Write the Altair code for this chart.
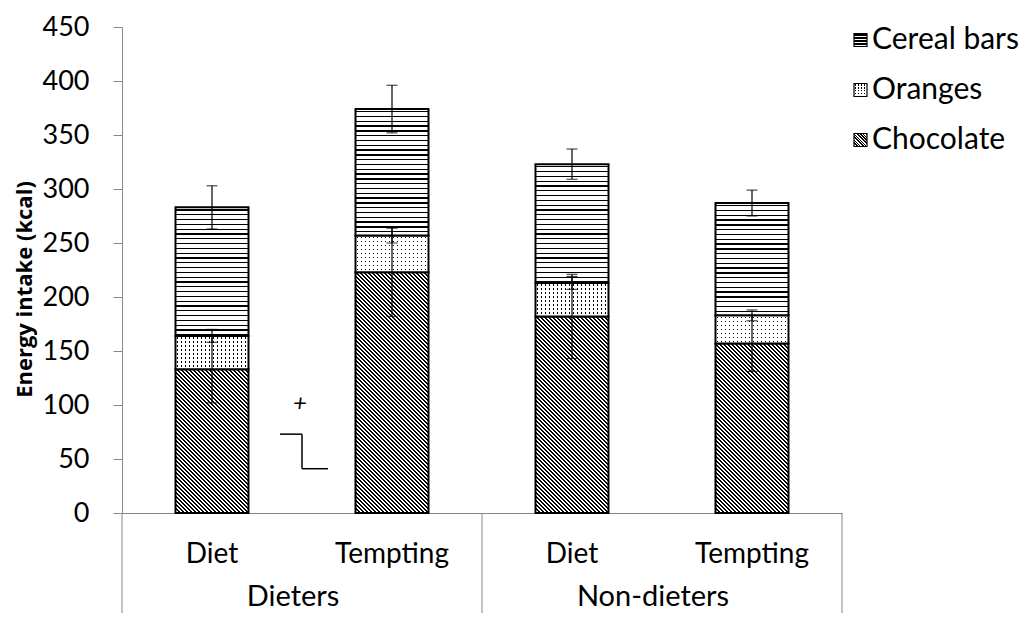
import math
import altair as alt
import pandas as pd

# ---------------- data ----------------
groups = ["Dieters", "Dieters", "Non-dieters", "Non-dieters"]
conditions = ["Diet", "Tempting", "Diet", "Tempting"]
series_order = ["Chocolate", "Oranges", "Cereal bars"]
legend_order = ["Cereal bars", "Oranges", "Chocolate"]
chocolate = [133, 223, 182, 157]
oranges = [31, 34, 31, 26]
cereal = [119, 117, 110, 104]
chocolate_err = [31, 41, 39, 26]
oranges_err = [6, 7, 6, 5]
cereal_err = [20, 22, 14, 12]
y_ticks = [0, 50, 100, 150, 200, 250, 300, 350, 400, 450]
y_title = "Energy intake (kcal)"
# marginal-significance bracket between Dieters/Diet and Dieters/Tempting
bracket_high = [73]
bracket_low = [41]
bracket_mark = ["+"]
bracket_label_y = [101]

# ---------------- layout / style ----------------
W, H = 720, 486
YMAX = 450
PX = H / YMAX
STEP = W / len(groups)
BAR_PX = 73
FONT = "Lato"
AXIS_GRAY = "#868686"

keys = [f"{g}|{c}" for g, c in zip(groups, conditions)]
vals = {"Chocolate": chocolate, "Oranges": oranges, "Cereal bars": cereal}
errs = {"Chocolate": chocolate_err, "Oranges": oranges_err, "Cereal bars": cereal_err}

rows = []
for i, k in enumerate(keys):
    base = 0
    for s in series_order:
        v = vals[s][i]
        e = errs[s][i]
        rows.append(dict(key=k, group=groups[i], condition=conditions[i], series=s,
                         y0=base, y1=base + v, lo=base + v - e, hi=base + v + e, hpx=v * PX))
        base += v
seg = pd.DataFrame(rows)

cond_df = pd.DataFrame({"key": keys, "condition": conditions})
group_names = list(dict.fromkeys(groups))
first_keys = [keys[groups.index(g)] for g in group_names]
group_df = pd.DataFrame({"key": first_keys, "group": group_names})
last_df = pd.DataFrame({"key": [keys[-1]]})
legend_df = pd.DataFrame({"series": legend_order})
ann_df = pd.DataFrame({"hi": bracket_high, "lo": bracket_low, "mark": bracket_mark, "ly": bracket_label_y})

XSCALE = alt.Scale(domain=keys, paddingInner=0, paddingOuter=0)
XAXIS = alt.Axis(labels=False, ticks=False, title=None, grid=False,
                 domainColor=AXIS_GRAY, domainWidth=1)
YSCALE = alt.Scale(domain=[0, YMAX], nice=False, zero=True)
YAXIS = alt.Axis(values=y_ticks, title=y_title, grid=False, domainColor=AXIS_GRAY,
                 tickColor=AXIS_GRAY, tickSize=9, labelFont=FONT, labelFontSize=27,
                 labelColor="black", labelPadding=24, titleFont="Open Sans", titleFontSize=22,
                 titleFontWeight="bold", titleColor="black", titleX=-98, titleY=262,
                 titleAngle=-90, titleAlign="center", titleBaseline="middle")


def X(**kw):
    return alt.X("key:N", sort=keys, scale=XSCALE, axis=XAXIS, **kw)


def Y(field):
    return alt.Y(f"{field}:Q", scale=YSCALE, axis=YAXIS)


# ---------------- pattern gradients ----------------
def r5(v):
    return round(min(max(v, 0.0), 1.0), 5)


def stripes(length, period, lw, fg, bg, phase=0.0):
    stops = [{"offset": 0, "color": bg}]
    pos = phase
    while pos < length:
        a = r5(pos / length)
        b = r5((pos + lw) / length)
        stops += [{"offset": a, "color": bg}, {"offset": a, "color": fg},
                  {"offset": b, "color": fg}, {"offset": b, "color": bg}]
        pos += period
    stops.append({"offset": 1, "color": bg})
    return stops


def hstripes(h, period, lw, fg="#000000", bg="#ffffff", phase=1.0):
    return {"gradient": "linear", "x1": 0, "y1": 0, "x2": 0, "y2": 1,
            "stops": stripes(h, period, lw, fg, bg, phase)}


def vstripes(w, period, lw, fg="#000000", bg="#ffffff", phase=1.0):
    return {"gradient": "linear", "x1": 0, "y1": 0, "x2": 1, "y2": 0,
            "stops": stripes(w, period, lw, fg, bg, phase)}


def diag(w, h, period_h, frac):
    r = h / w
    t = (1 + r) / (1 + r * r)
    n = (w + h) / period_h
    stops = [{"offset": 0, "color": "#ffffff"}]
    k = 0
    while k < n:
        a = r5(k / n)
        b = r5((k + frac) / n)
        stops += [{"offset": a, "color": "#ffffff"}, {"offset": a, "color": "#000000"},
                  {"offset": b, "color": "#000000"}, {"offset": b, "color": "#ffffff"}]
        k += 1
    stops.append({"offset": 1, "color": "#ffffff"})
    return {"gradient": "linear", "x1": 0, "y1": 1, "x2": round(t, 5), "y2": round(1 - t * r, 5),
            "stops": stops}


CLEAR = "rgba(255,255,255,0)"

layers = []
band = {"band": BAR_PX / STEP}

# bars
for _, row in seg.iterrows():
    flt = (alt.datum.key == row["key"]) & (alt.datum.series == row["series"])
    base = alt.Chart(seg).transform_filter(flt)
    enc = dict(x=X(), y=Y("y0"), y2=alt.Y2("y1:Q"))
    hpx = row["hpx"]
    if row["series"] == "Chocolate":
        layers.append(base.mark_bar(width=band, fill=diag(BAR_PX, hpx, 4.0, 0.55),
                                    stroke="black", strokeWidth=2).encode(**enc))
    elif row["series"] == "Oranges":
        layers.append(base.mark_bar(width=band, fill=vstripes(BAR_PX, 4.0, 1.2, phase=1.5),
                                    strokeWidth=0).encode(**enc))
        layers.append(base.mark_bar(width=band,
                                    fill=hstripes(hpx, 4.0, 1.2, fg=CLEAR, bg="#ffffff", phase=1.5),
                                    stroke="black", strokeWidth=2).encode(**enc))
    else:
        layers.append(base.mark_bar(width=band, fill=hstripes(hpx, 4.8, 1.3, phase=2.0),
                                    stroke="black", strokeWidth=2).encode(**enc))

# error bars
err_base = alt.Chart(seg)
layers.append(err_base.mark_rule(color="black", strokeWidth=1.2).encode(
    x=X(), y=Y("lo"), y2=alt.Y2("hi:Q")))
layers.append(err_base.mark_tick(color="black", thickness=1.2, size=11, orient="horizontal").encode(
    x=X(), y=Y("lo")))
layers.append(err_base.mark_tick(color="black", thickness=1.2, size=11, orient="horizontal").encode(
    x=X(), y=Y("hi")))

# category labels (two levels)
layers.append(alt.Chart(cond_df).mark_text(font=FONT, fontSize=28, color="black",
                                           baseline="middle").encode(
    x=X(), y=alt.value(528), text="condition:N"))
layers.append(alt.Chart(group_df).mark_text(font=FONT, fontSize=29, color="black",
                                            baseline="middle").encode(
    x=X(bandPosition=0.95), y=alt.value(570), text="group:N"))
# group separators below the axis
layers.append(alt.Chart(group_df).mark_rule(color=AXIS_GRAY, strokeWidth=1).encode(
    x=X(bandPosition=0), y=alt.value(H), y2=alt.value(596)))
layers.append(alt.Chart(last_df).mark_rule(color=AXIS_GRAY, strokeWidth=1).encode(
    x=X(bandPosition=1), y=alt.value(H), y2=alt.value(596)))

# bracket annotation
layers.append(alt.Chart(ann_df).mark_rule(color="black", strokeWidth=1.5).encode(
    x=alt.value(STEP), y=Y("hi"), y2=alt.Y2("lo:Q")))
layers.append(alt.Chart(ann_df).mark_rule(color="black", strokeWidth=1.5).encode(
    x=alt.value(STEP - 22), x2=alt.value(STEP), y=Y("hi")))
layers.append(alt.Chart(ann_df).mark_rule(color="black", strokeWidth=1.5).encode(
    x=alt.value(STEP), x2=alt.value(STEP + 26), y=Y("lo")))
layers.append(alt.Chart(ann_df).mark_text(font=FONT, fontSize=24, fontStyle="italic",
                                          color="black").encode(
    x=alt.value(STEP - 2), y=Y("ly"), text="mark:N"))

# legend
swatch = {"Cereal bars": hstripes(13, 3.0, 1.1, phase=1.0),
          "Oranges": None,
          "Chocolate": diag(13, 13, 3.0, 0.5)}
for i, s in enumerate(legend_order):
    yc = 13 + i * 50
    lb = alt.Chart(legend_df).transform_filter(alt.datum.series == s)
    if s == "Oranges":
        layers.append(lb.mark_rect(fill=vstripes(13, 3.0, 1.0, phase=1.0), strokeWidth=0).encode(
            x=alt.value(732), x2=alt.value(745), y=alt.value(yc - 6.5), y2=alt.value(yc + 6.5)))
        layers.append(lb.mark_rect(fill=hstripes(13, 3.0, 1.0, fg=CLEAR, bg="#ffffff", phase=1.0),
                                   stroke="black", strokeWidth=1.2).encode(
            x=alt.value(732), x2=alt.value(745), y=alt.value(yc - 6.5), y2=alt.value(yc + 6.5)))
    else:
        layers.append(lb.mark_rect(fill=swatch[s], stroke="black", strokeWidth=1.2).encode(
            x=alt.value(732), x2=alt.value(745), y=alt.value(yc - 6.5), y2=alt.value(yc + 6.5)))
    layers.append(lb.mark_text(font=FONT, fontSize=30, color="black", align="left",
                               baseline="middle").encode(
        x=alt.value(750), y=alt.value(yc), text="series:N"))

chart = alt.layer(*layers).properties(
    width=W, height=H,
    autosize=alt.AutoSizeParams(type="none"),
    padding={"left": 114, "top": 19, "right": 183, "bottom": 100},
    background="white",
).configure_view(stroke=None)

chart.save("out.html", embed_options={"renderer": "svg", "actions": False})
